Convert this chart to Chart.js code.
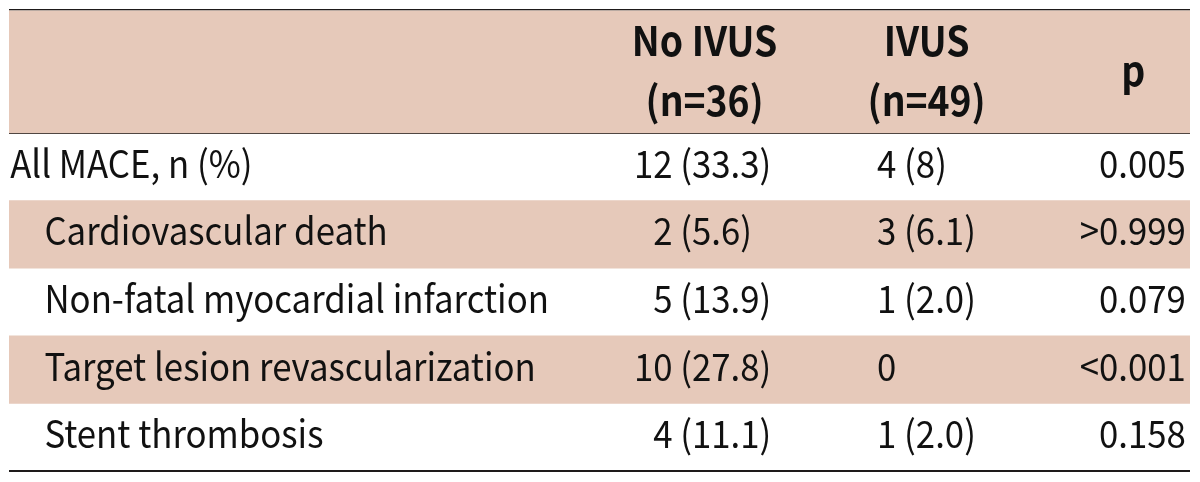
<!DOCTYPE html>
<html>
<head>
<meta charset="utf-8">
<script src="https://cdn.jsdelivr.net/npm/chart.js@4.4.1/dist/chart.umd.min.js"></script>
<style>
  html, body { margin: 0; padding: 0; background: #ffffff; }
  #wrap { width: 1200px; height: 482px; }
</style>
</head>
<body>
<div id="wrap"><canvas id="c" width="1200" height="482"></canvas></div>
<script>
// ---- table content ----
const columnHeaders = [['No IVUS', '(n=36)'], ['IVUS', '(n=49)'], ['p']];
const rowLabels = [
  'All MACE, n (%)',
  'Cardiovascular death',
  'Non-fatal myocardial infarction',
  'Target lesion revascularization',
  'Stent thrombosis'
];
const rowIndented = [false, true, true, true, true];
const noIvusValues = ['12 (33.3)', '2 (5.6)', '5 (13.9)', '10 (27.8)', '4 (11.1)'];
const ivusValues = ['4 (8)', '3 (6.1)', '1 (2.0)', '0', '1 (2.0)'];
const pValues = ['0.005', '>0.999', '0.079', '<0.001', '0.158'];
const shadedBodyRows = [1, 3];

// ---- layout / style ----
const headerSpan = 1.82;              // header height in body-row units
const totalSpan = headerSpan + rowLabels.length;
const shadeColor = '#e6c9ba';
const ruleColor = '#1e1a1a';
const textColor = '#111111';
const fontFamily = '"Noto Sans CJK KR", "Noto Sans", sans-serif';
const bodyCondense = 0.915;
const headCondense = 0.91;
// column anchors as fractions of table width
const anchors = {
  label: 0.001, labelIndent: 0.030,
  noIvusHead: 0.589, noIvusRight: 0.6455,
  ivusHead: 0.777, ivusLeft: 0.735,
  pHead: 0.952, pRight: 0.9965
};

const bands = [[0, headerSpan]].concat(
  shadedBodyRows.map(r => [headerSpan + r, headerSpan + r + 1])
);

function drawText(ctx, text, x, y, align, sx) {
  ctx.save();
  ctx.translate(x, y);
  ctx.scale(sx, 1);
  ctx.textAlign = align;
  ctx.fillText(text, 0, 0);
  ctx.restore();
}

const tablePlugin = {
  id: 'tableText',
  afterDraw(chart) {
    const ctx = chart.ctx;
    const ys = chart.scales.y;
    const cs = chart.scales.col;
    ctx.save();
    ctx.fillStyle = textColor;
    ctx.textBaseline = 'alphabetic';

    // header
    ctx.font = 'bold 41px ' + fontFamily;
    const hc = ys.getPixelForValue(headerSpan / 2);
    const headX = [anchors.noIvusHead, anchors.ivusHead, anchors.pHead];
    columnHeaders.forEach((lines, i) => {
      const n = lines.length;
      lines.forEach((t, j) => {
        const base = hc + (j - (n - 1) / 2) * 60 + 14;
        drawText(ctx, t, cs.getPixelForValue(headX[i]), base, 'center', headCondense);
      });
    });

    // body
    ctx.font = '38px ' + fontFamily;
    const digitW = ctx.measureText('0').width * bodyCondense;
    rowLabels.forEach((label, r) => {
      const base = ys.getPixelForValue(headerSpan + r + 0.5) + 11;
      drawText(ctx, label, cs.getPixelForValue(rowIndented[r] ? anchors.labelIndent : anchors.label), base, 'left', bodyCondense);

      // No IVUS: right aligned, inner numbers decimal-aligned
      const m = noIvusValues[r].match(/\((\d+)\./);
      const pad = m ? (2 - m[1].length) * digitW : 0;
      drawText(ctx, noIvusValues[r], cs.getPixelForValue(anchors.noIvusRight) - pad, base, 'right', bodyCondense);

      drawText(ctx, ivusValues[r], cs.getPixelForValue(anchors.ivusLeft), base, 'left', bodyCondense);

      drawText(ctx, pValues[r], cs.getPixelForValue(anchors.pRight), base, 'right', bodyCondense);
    });
    ctx.restore();
  }
};

const ruleValues = [0, headerSpan, totalSpan];
const ruleWidths = [1.5, 2, 2];

new Chart(document.getElementById('c'), {
  type: 'bar',
  data: {
    labels: ['table'],
    datasets: bands.map(b => ({
      data: [b],
      backgroundColor: shadeColor,
      borderWidth: 0,
      grouped: false,
      barPercentage: 1,
      categoryPercentage: 1
    }))
  },
  options: {
    responsive: false,
    animation: false,
    events: [],
    layout: { padding: { left: 9, right: 10, top: 10, bottom: 11 } },
    plugins: { legend: { display: false }, tooltip: { enabled: false }, title: { display: false } },
    scales: {
      x: { type: 'category', display: false, offset: true },
      col: { type: 'linear', axis: 'x', display: false, min: 0, max: 1, offset: false, grid: { offset: false } },
      y: {
        type: 'linear',
        reverse: true,
        min: 0,
        max: totalSpan,
        z: 1,
        afterBuildTicks: s => { s.ticks = ruleValues.map(v => ({ value: v })); },
        ticks: { display: false },
        border: { display: false },
        grid: {
          drawTicks: false,
          tickLength: 0,
          color: ruleColor,
          lineWidth: ctx => ruleWidths[ctx.index] ?? 0
        }
      }
    }
  },
  plugins: [tablePlugin]
});
</script>
</body>
</html>
